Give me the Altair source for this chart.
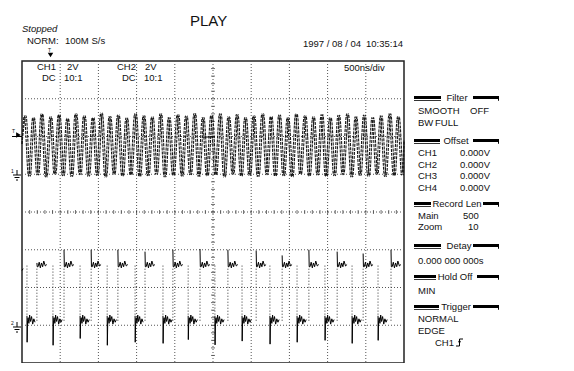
import altair as alt
import pandas as pd

# ------------------------------------------------------------------
# Data (x in divisions 0-10, y in divisions 0-8)
# ------------------------------------------------------------------
ch1_peak_t = [0.06, 0.28, 0.50, 0.73, 0.95, 1.17, 1.39, 1.61, 1.84, 2.06, 2.28, 2.50,
              2.72, 2.95, 3.17, 3.39, 3.61, 3.83, 4.06, 4.28, 4.50, 4.72, 4.94, 5.17,
              5.39, 5.61, 5.83, 6.05, 6.28, 6.50, 6.72, 6.94, 7.16, 7.39, 7.61, 7.83,
              8.05, 8.27, 8.50, 8.72, 8.94, 9.16, 9.38, 9.61, 9.83]
ch1_peak_v = [6.55, 6.50, 6.60, 6.52, 6.58, 6.48, 6.60, 6.55, 6.50, 6.62, 6.53, 6.57,
              6.49, 6.60, 6.55, 6.52, 6.60, 6.50, 6.58, 6.54, 6.61, 6.50, 6.56, 6.60,
              6.52, 6.58, 6.50, 6.55, 6.60, 6.53, 6.57, 6.50, 6.60, 6.55, 6.52, 6.58,
              6.50, 6.56, 6.60, 6.52, 6.57, 6.50, 6.55, 6.60, 6.53]
ch1_trough_t = [0.17, 0.39, 0.61, 0.84, 1.06, 1.28, 1.50, 1.72, 1.95, 2.17, 2.39, 2.61,
                2.83, 3.06, 3.28, 3.50, 3.72, 3.94, 4.17, 4.39, 4.61, 4.83, 5.05, 5.28,
                5.50, 5.72, 5.94, 6.16, 6.39, 6.61, 6.83, 7.05, 7.27, 7.50, 7.72, 7.94,
                8.16, 8.38, 8.61, 8.83, 9.05, 9.27, 9.49, 9.72, 9.94]
ch1_trough_v = [4.95, 4.98, 4.93, 5.00, 4.96, 4.94, 4.99, 4.95, 4.97, 4.93, 5.00, 4.95,
                4.98, 4.94, 4.96, 5.00, 4.93, 4.97, 4.95, 4.99, 4.94, 4.96, 4.98, 4.93,
                5.00, 4.95, 4.97, 4.94, 4.99, 4.95, 4.96, 4.93, 5.00, 4.95, 4.98, 4.94,
                4.96, 4.99, 4.93, 4.97, 4.95, 5.00, 4.94, 4.96, 4.98]
ch1_sweep_shift = [0.0, 0.045]   # two overlaid sweeps (persistence)

ch2_fall_t = [0.13, 0.81, 1.52, 2.23, 2.96, 3.69, 4.35, 5.05, 5.76, 6.49, 7.20, 7.93, 8.64, 9.32]
ch2_under_v = [0.55, 0.47, 0.65, 0.47, 0.55, 0.52, 0.62, 0.48, 0.58, 0.50, 0.55, 0.60, 0.52, 0.60]
ch2_rise_t = [0.39, 1.10, 1.81, 2.51, 3.22, 3.95, 4.66, 5.39, 6.13, 6.81, 7.51, 8.25, 8.93, 9.66]
ch2_over_v = [2.65, 3.00, 3.00, 3.00, 2.95, 3.00, 3.02, 3.00, 2.98, 2.85, 3.00, 2.95, 2.90, 3.00]
ch2_high = 2.55
ch2_low = 1.05
ch2_hi_dt = [0.03, 0.06, 0.09, 0.12, 0.15, 0.18, 0.22, 0.26]
ch2_hi_dv = [0.00, 0.12, -0.03, 0.10, 0.00, 0.15, 0.02, 0.06]
ch2_lo_dt = [0.03, 0.05, 0.07, 0.09, 0.12, 0.15, 0.18, 0.21, 0.24]
ch2_lo_dv = [0.15, 0.00, 0.22, 0.05, 0.18, -0.02, 0.12, 0.03, 0.10]

# ------------------------------------------------------------------
# Tables
# ------------------------------------------------------------------
ch1_rows = []
for s, sh in enumerate(ch1_sweep_shift):
    ch1_rows.append({"t": 0.0, "v": 5.8, "sw": s})
    for t, v in zip(ch1_peak_t, ch1_peak_v):
        if t + sh <= 10:
            ch1_rows.append({"t": t + sh, "v": v, "sw": s})
    for t, v in zip(ch1_trough_t, ch1_trough_v):
        if t + sh <= 10:
            ch1_rows.append({"t": t + sh, "v": v, "sw": s})
    ch1_rows.append({"t": 10.0, "v": 5.9, "sw": s})
ch1 = pd.DataFrame(ch1_rows).sort_values(["sw", "t"])

ch2_rows = [{"t": 0.0, "v": 2.45, "seg": 0, "o": 0}, {"t": 0.03, "v": 2.5, "seg": 0, "o": 1}]
trans = []
seg = 1
for i in range(len(ch2_fall_t)):
    f = ch2_fall_t[i]
    r = ch2_rise_t[i]
    f_next = ch2_fall_t[i + 1] if i + 1 < len(ch2_fall_t) else 10.0
    pts = [(f, 1.25), (f + 0.004, ch2_under_v[i]), (f + 0.015, 1.12)]
    for dt, dv in zip(ch2_lo_dt, ch2_lo_dv):
        if f + dt < r - 0.02:
            pts.append((f + dt, ch2_low + dv))
    for k, (t, v) in enumerate(pts):
        ch2_rows.append({"t": t, "v": v, "seg": seg, "o": k})
    seg += 1
    pts = [(r, ch2_over_v[i]), (r + 0.008, ch2_high)]
    for dt, dv in zip(ch2_hi_dt, ch2_hi_dv):
        if r + dt < f_next - 0.02:
            pts.append((r + dt, ch2_high + dv))
    for k, (t, v) in enumerate(pts):
        ch2_rows.append({"t": t, "v": v, "seg": seg, "o": k})
    seg += 1
    trans.append({"t": f, "a": ch2_high + 0.03, "b": 1.25})
    trans.append({"t": r, "a": 1.12, "b": ch2_high})
ch2 = pd.DataFrame(ch2_rows)
ch2_tr = pd.DataFrame(trans)

xs = alt.Scale(domain=[0, 10], nice=False, zero=False)
ys = alt.Scale(domain=[0, 8], nice=False, zero=False)

grid_x = pd.DataFrame({"g": [1, 2, 3, 4, 5, 6, 7, 8, 9]})
grid_y = pd.DataFrame({"g": [1, 2, 3, 4, 5, 6, 7]})
gx = alt.Chart(grid_x).mark_rule(color="#555", strokeDash=[1, 2], strokeWidth=1).encode(
    x=alt.X("g:Q", scale=xs, axis=None))
gy = alt.Chart(grid_y).mark_rule(color="#555", strokeDash=[1, 2], strokeWidth=1).encode(
    y=alt.Y("g:Q", scale=ys, axis=None))
minor_v = pd.DataFrame({"p": [i / 5 for i in range(1, 40)], "c": 5})
minor_h = pd.DataFrame({"p": [i / 5 for i in range(1, 50)], "c": 4})
tv = alt.Chart(minor_v).mark_tick(orient="horizontal", color="#333", size=4, thickness=1).encode(
    x=alt.X("c:Q", scale=xs, axis=None), y=alt.Y("p:Q", scale=ys, axis=None))
th = alt.Chart(minor_h).mark_tick(orient="vertical", color="#333", size=4, thickness=1).encode(
    x=alt.X("p:Q", scale=xs, axis=None), y=alt.Y("c:Q", scale=ys, axis=None))

l1 = alt.Chart(ch1).mark_line(color="#1a1a1a", strokeWidth=1.1, interpolate="monotone",
                              strokeDash=[3, 1]).encode(
    x=alt.X("t:Q", scale=xs, axis=None), y=alt.Y("v:Q", scale=ys, axis=None),
    detail="sw:N", order="t:Q")
l2 = alt.Chart(ch2).mark_line(color="#000", strokeWidth=1).encode(
    x=alt.X("t:Q", scale=xs, axis=None), y=alt.Y("v:Q", scale=ys, axis=None),
    detail="seg:N", order="o:Q")
l2t = alt.Chart(ch2_tr).mark_rule(color="#333", strokeDash=[1, 2], strokeWidth=1).encode(
    x=alt.X("t:Q", scale=xs, axis=None), y=alt.Y("a:Q", scale=ys, axis=None), y2="b:Q")

# ------------------------------------------------------------------
# Screen furniture, page pixel positions
# ------------------------------------------------------------------
X0, Y0 = 22, 61


def pix(rows, cols):
    df = pd.DataFrame(rows, columns=cols)
    for c in ("x", "x2"):
        if c in df:
            df[c] = df[c] - X0
    for c in ("y", "y2"):
        if c in df:
            df[c] = df[c] - Y0
    return df


FONT = "Liberation Sans"
PX = dict(scale=None, axis=None)

left_txt = pix([
    ("NORM:", 27, 41), ("100M S/s", 65, 41),
    ("1997 / 08 / 04", 303, 44), ("10:35:14", 366, 44),
    ("CH1", 37, 67), ("2V", 67, 67), ("DC", 42, 77.5), ("10:1", 64, 77.5),
    ("CH2", 117, 67), ("2V", 145, 67), ("DC", 122, 77.5), ("10:1", 144, 77.5),
    ("500ns/div", 344, 68),
    ("SMOOTH", 418, 111), ("OFF", 470, 111),
    ("BW", 418, 122.5), ("FULL", 435, 122.5),
    ("CH1", 418, 153), ("CH2", 418, 164.5), ("CH3", 418, 176), ("CH4", 418, 187.5),
    ("Main", 418, 216), ("500", 463, 216),
    ("Zoom", 418, 227), ("10", 468, 227),
    ("0.000 000 000s", 418, 261),
    ("MIN", 418, 290.5),
    ("NORMAL", 418, 319), ("EDGE", 418, 331), ("CH1", 435, 343),
], ["s", "x", "y"])
right_txt = pix([("0.000V", 490, 153), ("0.000V", 490, 164.5), ("0.000V", 490, 176),
                 ("0.000V", 490, 187.5)], ["s", "x", "y"])
headers = [("Filter", 98, 441, 473, 457), ("Offset", 141, 440, 473, 456),
           ("Record Len", 204, 431, 483, 457), ("Detay", 246, 441, 473, 459),
           ("Hold Off", 277, 436, 477, 455), ("Trigger", 307, 439, 473, 456)]
center_txt = pix([(h[0], h[4], h[1]) for h in headers], ["s", "x", "y"])
lbar = pix([(414, h[2], h[1] - 2, h[1] + 1) for h in headers], ["x", "x2", "y", "y2"])
rbar = pix([(h[3], 499, h[1] - 2, h[1] + 1) for h in headers], ["x", "x2", "y", "y2"])
lthin = pix([(414, h[2], h[1] + 2, h[1] + 2.8) for h in headers], ["x", "x2", "y", "y2"])
rthin = pix([(498, 499, h[1] - 2, h[1] + 2.8) for h in headers], ["x", "x2", "y", "y2"])

small_txt = pix([("T", 12, 131), ("1", 11, 171), ("2", 11, 323), ("T", 48, 49.5)], ["s", "x", "y"])

rules = pix([
    (12, 136.5, 22, 136.5),
    (17, 170, 17, 175), (13, 175, 21, 175), (14.5, 177.5, 19.5, 177.5), (16, 180, 18, 180),
    (17, 322, 17, 327), (13, 327, 21, 327), (14.5, 329.5, 19.5, 329.5), (16, 332, 18, 332),
    (203, 137, 215, 137),
    (456, 346, 459.5, 346), (459.5, 346, 459.5, 339), (459.5, 339, 463, 339),
], ["x", "y", "x2", "y2"])
tris_r = pix([(18.5, 135)], ["x", "y"])
tris_d = pix([(50.5, 55)], ["x", "y"])
tris_u = pix([(459.5, 341)], ["x", "y"])


def txt(df, align, size=9.5, style="normal"):
    return alt.Chart(df).mark_text(align=align, baseline="middle", font=FONT, fontSize=size,
                                   fontStyle=style, color="#111").encode(
        x=alt.X("x:Q", **PX), y=alt.Y("y:Q", **PX), text="s:N")


def rect(df, color="#000"):
    return alt.Chart(df).mark_rect(color=color, opacity=1).encode(
        x=alt.X("x:Q", **PX), x2="x2:Q", y=alt.Y("y:Q", **PX), y2="y2:Q")


t_left = txt(left_txt, "left")
t_right = txt(right_txt, "right")
t_center = txt(center_txt, "center")
t_small = txt(small_txt, "left", size=5)
t_play = txt(pix([("PLAY", 190, 21)], ["s", "x", "y"]), "left", size=15)
t_stop = txt(pix([("Stopped", 22, 29)], ["s", "x", "y"]), "left", style="italic")

r_rules = alt.Chart(rules).mark_rule(color="#000", strokeWidth=1).encode(
    x=alt.X("x:Q", **PX), x2="x2:Q", y=alt.Y("y:Q", **PX), y2="y2:Q")
p_r = alt.Chart(tris_r).mark_point(shape="triangle-right", filled=True, color="#000", size=30,
                                   opacity=1).encode(x=alt.X("x:Q", **PX), y=alt.Y("y:Q", **PX))
p_d = alt.Chart(tris_d).mark_point(shape="triangle-down", filled=True, color="#000", size=30,
                                   opacity=1).encode(x=alt.X("x:Q", **PX), y=alt.Y("y:Q", **PX))
p_u = alt.Chart(tris_u).mark_point(shape="triangle-up", filled=True, color="#000", size=10,
                                   opacity=1).encode(x=alt.X("x:Q", **PX), y=alt.Y("y:Q", **PX))

chart = alt.layer(
    gx, gy, tv, th, l1, l2t, l2,
    t_left, t_right, t_center, t_small, t_play, t_stop,
    rect(lbar), rect(rbar), rect(lthin), rect(rthin),
    r_rules, p_r, p_d, p_u,
).resolve_scale(x="independent", y="independent").properties(
    width=382, height=302,
    autosize=alt.AutoSizeParams(type="none"),
    padding={"left": 14, "top": 53, "right": 162, "bottom": 0},
    background="white",
).configure_view(stroke="#222", strokeWidth=1.5)

chart.save("out.html", embed_options={"renderer": "svg", "actions": False})
